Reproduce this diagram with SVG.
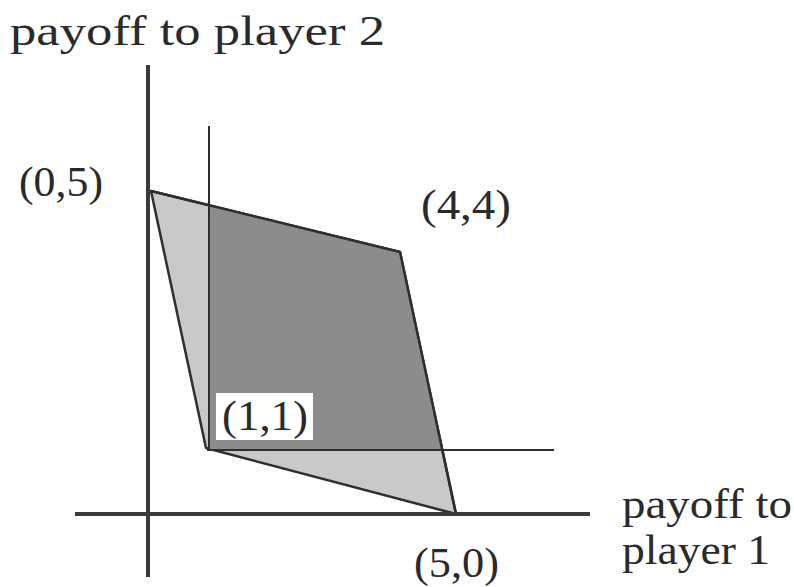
<svg xmlns="http://www.w3.org/2000/svg" width="794" height="587" viewBox="0 0 794 587">
<style>
.t{font-family:"Liberation Serif","DejaVu Serif",serif;font-size:42px;fill:#2a2a2a}
.ax{stroke:#3a3a3a;stroke-width:4;fill:none}
.thin{stroke:#2e2e2e;stroke-width:2;fill:none}
</style>
<rect width="794" height="587" fill="#fff"/>
<g id="region">
<polygon points="151,191 400,252 456,514 206,448" fill="#c9c9c9" stroke="#2e2e2e" stroke-width="2.5" stroke-linejoin="round"/>
<polygon points="209,205 400,252 442.5,450 209,450" fill="#8c8c8c" stroke="none"/>
<polyline points="151,191 400,252 456,514" fill="none" stroke="#2e2e2e" stroke-width="2.5"/>
</g>
<g id="axes">
<line class="ax" x1="148" y1="65" x2="148" y2="577"/>
<line class="ax" x1="75" y1="514" x2="590" y2="514"/>
<line class="thin" x1="209" y1="126" x2="209" y2="450"/>
<line class="thin" x1="207" y1="450" x2="554" y2="450"/>
</g>
<g id="labels">
<text class="t" x="10" y="45" textLength="375" lengthAdjust="spacingAndGlyphs">payoff to player 2</text>
<text class="t" x="19" y="196" textLength="84" lengthAdjust="spacingAndGlyphs">(0,5)</text>
<text class="t" x="421" y="219" textLength="90" lengthAdjust="spacingAndGlyphs">(4,4)</text>
<rect x="216" y="393" width="97" height="47" fill="#fff"/>
<text class="t" x="222" y="430" textLength="86" lengthAdjust="spacingAndGlyphs">(1,1)</text>
<text class="t" x="622" y="518" textLength="170" lengthAdjust="spacingAndGlyphs">payoff to</text>
<text class="t" x="622" y="564" textLength="148" lengthAdjust="spacingAndGlyphs">player 1</text>
<text class="t" x="414" y="577" textLength="85" lengthAdjust="spacingAndGlyphs">(5,0)</text>
</g>
</svg>
